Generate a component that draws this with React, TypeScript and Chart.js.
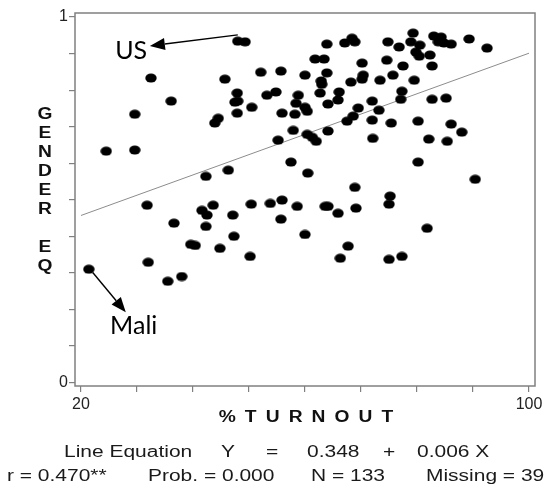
import React, { useEffect, useRef } from 'react';
import { Chart, registerables } from 'chart.js';

Chart.register(...registerables);

// ---- data ----
const turnout = [
  48.0, 49.3, 32.5, 45.7, 36.1, 29.6, 43.9, 44.5, 24.5, 29.6,
  52.1, 55.7, 47.9, 47.5, 48.0, 47.9, 53.2, 54.8, 50.5, 55.9,
  63.9, 67.1, 68.4, 68.9, 74.8, 76.8, 79.3, 78.9, 80.5, 79.8,
  80.4, 82.3, 83.0, 84.3, 83.8, 84.8, 86.1, 89.3, 92.5, 61.8,
  63.4, 70.2, 74.6, 77.5, 82.7, 60.0, 63.9, 62.9, 63.0, 68.2,
  70.2, 70.4, 73.4, 75.7, 79.5, 58.8, 62.7, 66.1, 58.4, 60.0,
  60.4, 58.2, 64.1, 65.9, 72.0, 77.3, 77.1, 82.7, 85.2, 69.5,
  73.2, 68.6, 67.5, 72.0, 75.4, 80.2, 86.1, 88.0, 57.9, 64.1,
  60.4, 61.3, 62.0, 55.2, 72.1, 82.1, 85.4, 57.5, 60.5, 80.2,
  90.4, 42.3, 46.3, 31.8, 41.6, 42.5, 43.6, 42.3, 47.1, 36.6,
  47.3, 39.6, 40.4, 44.8, 32.0, 21.4, 35.5, 38.0, 68.9, 75.2,
  75.0, 50.4, 53.8, 55.9, 58.6, 63.6, 64.1, 65.9, 69.1, 55.7,
  60.0, 67.7, 50.2, 66.3, 75.0, 77.3, 81.8,
];
const genderEq = [
  0.934, 0.932, 0.833, 0.830, 0.770, 0.734, 0.710, 0.723, 0.633, 0.636,
  0.849, 0.852, 0.792, 0.767, 0.770, 0.737, 0.786, 0.795, 0.753, 0.737,
  0.926, 0.929, 0.942, 0.932, 0.932, 0.918, 0.956, 0.932, 0.923, 0.904,
  0.893, 0.896, 0.948, 0.945, 0.932, 0.929, 0.926, 0.940, 0.915, 0.885,
  0.885, 0.874, 0.882, 0.866, 0.866, 0.841, 0.847, 0.825, 0.816, 0.822,
  0.830, 0.841, 0.827, 0.841, 0.827, 0.786, 0.792, 0.795, 0.764, 0.753,
  0.742, 0.734, 0.762, 0.773, 0.770, 0.797, 0.775, 0.775, 0.778, 0.751,
  0.745, 0.729, 0.715, 0.718, 0.710, 0.715, 0.707, 0.685, 0.690, 0.688,
  0.679, 0.671, 0.660, 0.663, 0.668, 0.666, 0.660, 0.603, 0.573, 0.603,
  0.556, 0.564, 0.581, 0.485, 0.471, 0.458, 0.485, 0.427, 0.458, 0.436,
  0.400, 0.378, 0.375, 0.367, 0.329, 0.310, 0.277, 0.290, 0.534, 0.510,
  0.488, 0.488, 0.490, 0.499, 0.482, 0.482, 0.482, 0.463, 0.477, 0.447,
  0.405, 0.373, 0.345, 0.340, 0.337, 0.345, 0.422,
];
const fitTurnout = [20, 100];
const fitGenderEq = [0.457, 0.901];

const xTicks = [20, 30, 40, 50, 60, 70, 80, 90, 100];
const xTickLabels = ['20', '', '', '', '', '', '', '', '100'];
const yTicks = [0, 0.1, 0.2, 0.3, 0.4, 0.5, 0.6, 0.7, 0.8, 0.9, 1];
const yTickLabels = ['0', '', '', '', '', '', '', '', '', '', '1'];

const xTitle = '%TURNOUT';
const yTitleLetters = ['G', 'E', 'N', 'D', 'E', 'R', '', 'E', 'Q'];
const statsLine1 = ['Line Equation', 'Y', '=', '0.348', '+', '0.006 X'];
const statsLine2 = ['r = 0.470**', 'Prob. = 0.000', 'N = 133', 'Missing = 39'];

// annotations in data units
const annotationLabels = ['US', 'Mali'];
const annotationFromX = [48.0, 22.1];
const annotationFromY = [0.951, 0.301];
const annotationToX = [32.3, 28.0];
const annotationToY = [0.921, 0.192];
const annotationTextX = [26.1, 25.2];
const annotationTextY = [0.885, 0.132];

// ---- layout (pixels) ----
const W = 547;
const H = 484;
const stats1X = [64, 221, 266, 307, 383, 417];
const stats2X = [7, 148, 311, 426];
const stats1Base = 457;
const stats2Base = 481;
const STRETCH = 1.31;
const yTitleX = 45;
const yTitleTop = 115;
const yTitleStep = 19;
const xTitleCX = 306;
const xTitleCY = 418;

function stretchedText(ctx: CanvasRenderingContext2D, text: string, x: number, y: number, sx: number) {
  ctx.save();
  ctx.translate(x, y);
  ctx.scale(sx, 1);
  ctx.fillText(text, 0, 0);
  ctx.restore();
}

const decorPlugin = {
  id: 'decor',
  afterDraw(chart: any) {
    const { ctx, chartArea: a, scales } = chart;
    const xs = scales.x;
    const ys = scales.y;
    ctx.save();
    // frame
    ctx.strokeStyle = '#808080';
    ctx.lineWidth = 1.5;
    ctx.strokeRect(a.left, a.top, a.right - a.left, a.bottom - a.top);

    ctx.fillStyle = '#111';
    // y title (stacked letters)
    ctx.font = 'bold 16px "Liberation Sans", Arial, sans-serif';
    ctx.textBaseline = 'middle';
    ctx.textAlign = 'left';
    yTitleLetters.forEach((ch, i) => {
      if (!ch) return;
      const w = ctx.measureText(ch).width * 1.2;
      stretchedText(ctx, ch, yTitleX - w / 2, yTitleTop + i * yTitleStep, 1.2);
    });

    // x title with spaced letters
    ctx.font = 'bold 16px "Liberation Sans", Arial, sans-serif';
    const chars = xTitle.split('');
    const sx = 1.2;
    const gap = 9.1;
    const widths = chars.map((c) => ctx.measureText(c).width * sx);
    const total = widths.reduce((s, v) => s + v, 0) + gap * (chars.length - 1);
    let cx = xTitleCX - total / 2;
    chars.forEach((c, i) => {
      stretchedText(ctx, c, cx, xTitleCY, sx);
      cx += widths[i] + gap;
    });

    // stats lines
    ctx.fillStyle = '#1a1a1a';
    ctx.font = '16px "Liberation Sans", Arial, sans-serif';
    ctx.textBaseline = 'alphabetic';
    ctx.textAlign = 'left';
    statsLine1.forEach((t, i) => stretchedText(ctx, t, stats1X[i], stats1Base, STRETCH));
    statsLine2.forEach((t, i) => stretchedText(ctx, t, stats2X[i], stats2Base, STRETCH));

    // annotations
    ctx.strokeStyle = '#000';
    ctx.fillStyle = '#000';
    ctx.lineWidth = 1.4;
    annotationLabels.forEach((label, i) => {
      const x0 = xs.getPixelForValue(annotationFromX[i]);
      const y0 = ys.getPixelForValue(annotationFromY[i]);
      const x1 = xs.getPixelForValue(annotationToX[i]);
      const y1 = ys.getPixelForValue(annotationToY[i]);
      const ang = Math.atan2(y1 - y0, x1 - x0);
      const headLen = 15;
      const headHalf = 6;
      const bx = x1 - headLen * Math.cos(ang);
      const by = y1 - headLen * Math.sin(ang);
      ctx.beginPath();
      ctx.moveTo(x0, y0);
      ctx.lineTo(bx, by);
      ctx.stroke();
      ctx.beginPath();
      ctx.moveTo(x1, y1);
      ctx.lineTo(bx + headHalf * Math.sin(ang), by - headHalf * Math.cos(ang));
      ctx.lineTo(bx - headHalf * Math.sin(ang), by + headHalf * Math.cos(ang));
      ctx.closePath();
      ctx.fill();

      ctx.font = '25px Lato, "Open Sans", sans-serif';
      ctx.textBaseline = 'alphabetic';
      ctx.textAlign = 'left';
      ctx.fillText(label, xs.getPixelForValue(annotationTextX[i]), ys.getPixelForValue(annotationTextY[i]));
    });
    ctx.restore();
  },
};

export default function App() {
  const canvasRef = useRef<HTMLCanvasElement | null>(null);

  useEffect(() => {
    const canvas = canvasRef.current;
    if (!canvas) return;
    const dot = document.createElement('canvas');
    dot.width = 12;
    dot.height = 10;
    const dctx = dot.getContext('2d')!;
    dctx.fillStyle = '#000';
    dctx.beginPath();
    dctx.ellipse(6, 5, 5.7, 4.6, 0, 0, Math.PI * 2);
    dctx.fill();

    const points = turnout.map((x, i) => ({ x, y: genderEq[i] }));
    const fit = fitTurnout.map((x, i) => ({ x, y: fitGenderEq[i] }));

    const tickFont = { family: '"Liberation Sans", Arial, sans-serif', size: 16 };
    const grid = {
      display: true,
      drawOnChartArea: false,
      drawTicks: true,
      tickLength: 6,
      color: '#808080',
      lineWidth: 1.2,
    };

    const chart = new Chart(canvas, {
      type: 'scatter',
      data: {
        datasets: [
          {
            data: points,
            pointStyle: dot as any,
            pointRadius: 5,
            pointHoverRadius: 5,
            backgroundColor: '#000',
            borderColor: '#000',
            clip: false as any,
          },
          {
            type: 'line' as any,
            data: fit,
            borderColor: '#8c8c8c',
            borderWidth: 1,
            pointRadius: 0,
            showLine: true,
            fill: false,
          } as any,
        ],
      },
      options: {
        animation: false,
        responsive: false,
        devicePixelRatio: 1,
        layout: { padding: { top: 13, right: 12, left: 0, bottom: 0 } },
        plugins: {
          legend: { display: false },
          tooltip: { enabled: false },
          title: { display: false },
        },
        scales: {
          x: {
            type: 'linear',
            min: 18.93,
            max: 101.07,
            afterBuildTicks: (s: any) => {
              s.ticks = xTicks.map((v) => ({ value: v }));
            },
            afterFit: (s: any) => {
              s.height = 98;
            },
            ticks: {
              autoSkip: false,
              maxRotation: 0,
              padding: 3,
              font: tickFont,
              color: '#222',
              callback: (_v: any, i: number) => xTickLabels[i] ?? '',
            },
            grid,
            border: { display: false },
          },
          y: {
            type: 'linear',
            min: -0.0096,
            max: 1.011,
            afterBuildTicks: (s: any) => {
              s.ticks = yTicks.map((v) => ({ value: v }));
            },
            afterFit: (s: any) => {
              s.width = 75;
            },
            ticks: {
              autoSkip: false,
              padding: 1,
              font: tickFont,
              color: '#222',
              callback: (_v: any, i: number) => yTickLabels[i] ?? '',
            },
            grid,
            border: { display: false },
          },
        },
      } as any,
      plugins: [decorPlugin],
    });

    return () => chart.destroy();
  }, []);

  return (
    <div style={{ position: 'absolute', left: 0, top: 0, width: W, height: H, background: '#fff' }}>
      <canvas ref={canvasRef} width={W} height={H} style={{ width: W, height: H, display: 'block' }} />
    </div>
  );
}
